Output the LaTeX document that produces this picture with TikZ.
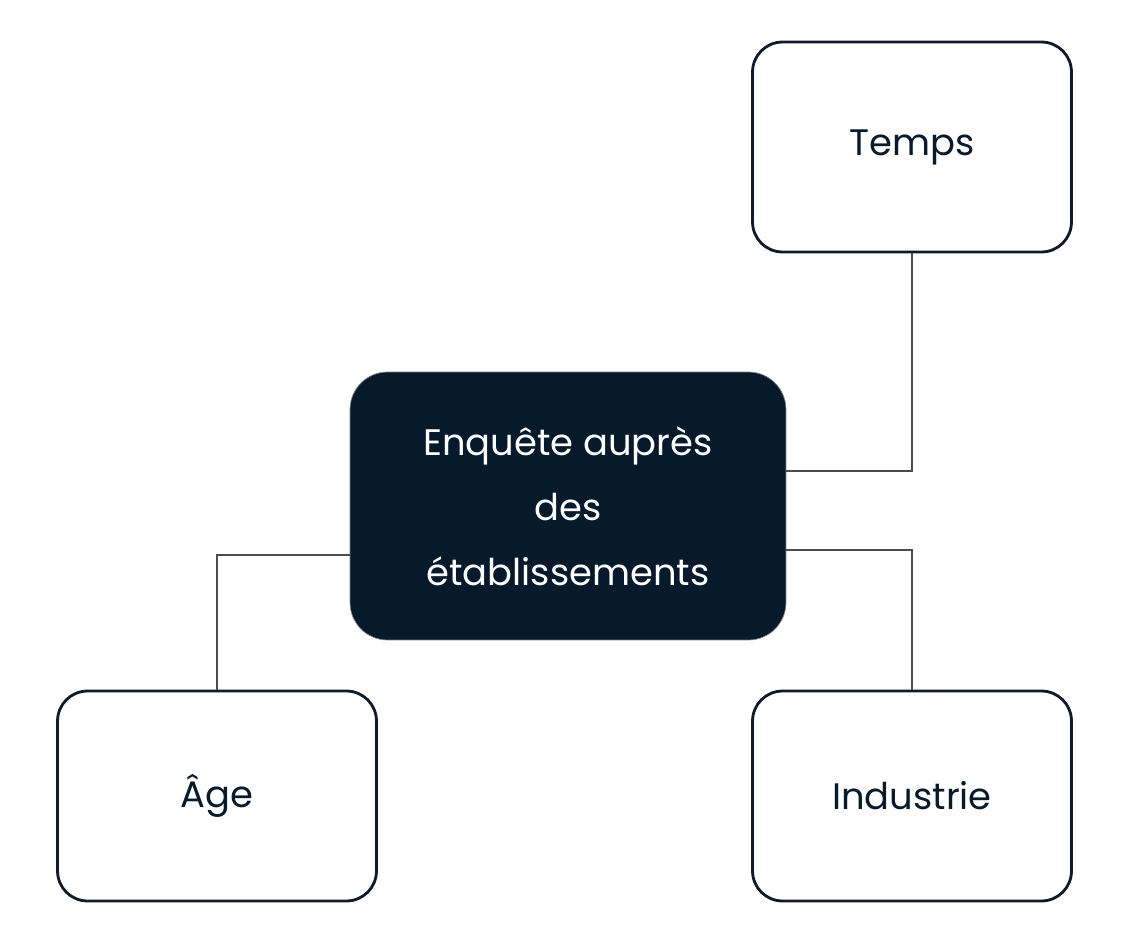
\documentclass[tikz,border=0pt]{standalone}
\usepackage{fontspec}
\setmainfont{Poppins}
\usetikzlibrary{positioning}
\definecolor{navy}{HTML}{061A2B}
\definecolor{edge}{HTML}{0F1A2A}
\begin{document}
\begin{tikzpicture}[x=0.02cm,y=-0.02cm]
		\tikzstyle {topic} = [draw=edge, line width=1.6pt, rounded corners=0.6cm, minimum width=6.38cm, minimum height=4.2cm, text=navy, font=\fontsize{21}{26}\selectfont]
		\tikzstyle {hub} = [draw=gray, fill=navy, rounded corners=0.75cm, minimum width=8.72cm, minimum height=5.36cm, text=white, align=center, font=\fontsize{21}{37}\selectfont]
		\tikzstyle {link} = [draw=black!70, line width=0.6pt]

		\useasboundingbox (0,0) rectangle (1136,939);

		\node[hub] (hub) at (568,506) {Enquête auprès\\des\\établissements};
		\node[topic] (temps) at (912,147) {Temps};
		\node[topic] (age) at (217,796) {Âge};
		\node[topic] (ind) at (912,796) {Industrie};

		\coordinate (hubTR) at (786,471);
		\coordinate (hubL) at (350,555);
		\coordinate (hubBR) at (786,550);

		\draw[link] (temps.south) |- (hubTR);
		\draw[link] (age.north) |- (hubL);
		\draw[link] (ind.north) |- (hubBR);
\end{tikzpicture}
\end{document}
